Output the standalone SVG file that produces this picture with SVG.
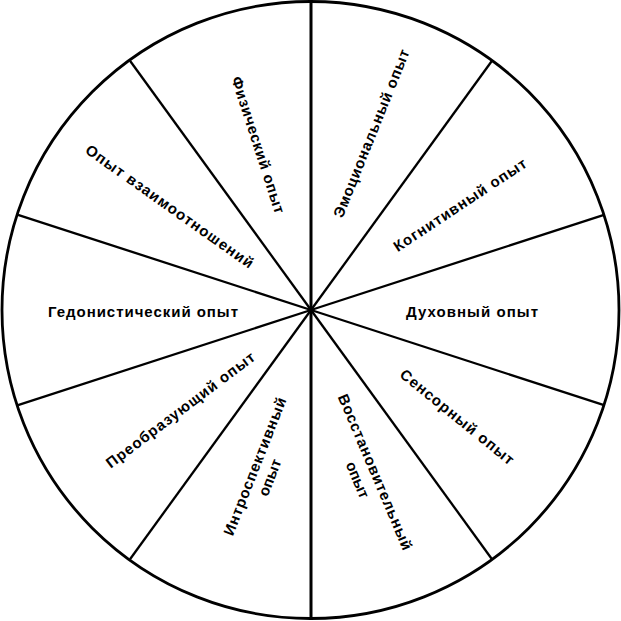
<svg xmlns="http://www.w3.org/2000/svg" width="621" height="621" viewBox="0 0 621 621">
<style>
.rim{fill:#fff;stroke:#000;stroke-width:2.8}
.sp{stroke:#000;stroke-width:2.3;fill:none}
.v{stroke-width:3}
.t{font-family:"Liberation Sans",Arial,sans-serif;font-weight:bold;font-size:15px;fill:#000;text-anchor:middle}
</style>
<rect width="621" height="621" fill="#fff"/>
<circle class="rim" cx="310.5" cy="310" r="308.5"/>
<g id="connectors">
<line class="sp v" x1="311" y1="2" x2="311" y2="618"/>
<line class="sp" x1="311" y1="310" x2="492" y2="60.8"/>
<line class="sp" x1="311" y1="310" x2="604" y2="214.8"/>
<line class="sp" x1="311" y1="310" x2="604" y2="405.2"/>
<line class="sp" x1="311" y1="310" x2="492" y2="559.2"/>
<line class="sp" x1="311" y1="310" x2="130" y2="559.2"/>
<line class="sp" x1="311" y1="310" x2="18" y2="405.2"/>
<line class="sp" x1="311" y1="310" x2="18" y2="214.8"/>
<line class="sp" x1="311" y1="310" x2="130" y2="60.8"/>
</g>
<g id="fizicheskiy"><text class="t" transform="translate(258,145) rotate(72)" y="5" textLength="143">Физический опыт</text></g>
<g id="emotsionalnyy"><text class="t" transform="translate(371.5,133.5) rotate(-68)" y="5" textLength="180">Эмоциональный опыт</text></g>
<g id="kognitivnyy"><text class="t" transform="translate(460,205) rotate(-33.5)" y="5" textLength="156">Когнитивный опыт</text></g>
<g id="dukhovnyy"><text class="t" x="472" y="317" textLength="132">Духовный опыт</text></g>
<g id="sensornyy"><text class="t" transform="translate(457,417) rotate(39)" y="5" textLength="142">Сенсорный опыт</text></g>
<g id="vosstanovitelnyy"><text class="t" transform="translate(375,472) rotate(67)" y="5" textLength="168">Восстановительный</text><text class="t" transform="translate(357.5,480) rotate(67)" y="5">опыт</text></g>
<g id="introspektivnyy"><text class="t" transform="translate(255,466.5) rotate(-68.5)" y="5" textLength="147">Интроспективный</text><text class="t" transform="translate(270,477.5) rotate(-68.5)" y="5">опыт</text></g>
<g id="preobrazuyushchiy"><text class="t" transform="translate(180.5,410) rotate(-37)" y="5" textLength="182">Преобразующий опыт</text></g>
<g id="gedonisticheskiy"><text class="t" x="143" y="317" textLength="190">Гедонистический опыт</text></g>
<g id="vzaimootnosheniy"><text class="t" transform="translate(169.5,206.5) rotate(35.3)" y="5" textLength="202">Опыт взаимоотношений</text></g>
</svg>
